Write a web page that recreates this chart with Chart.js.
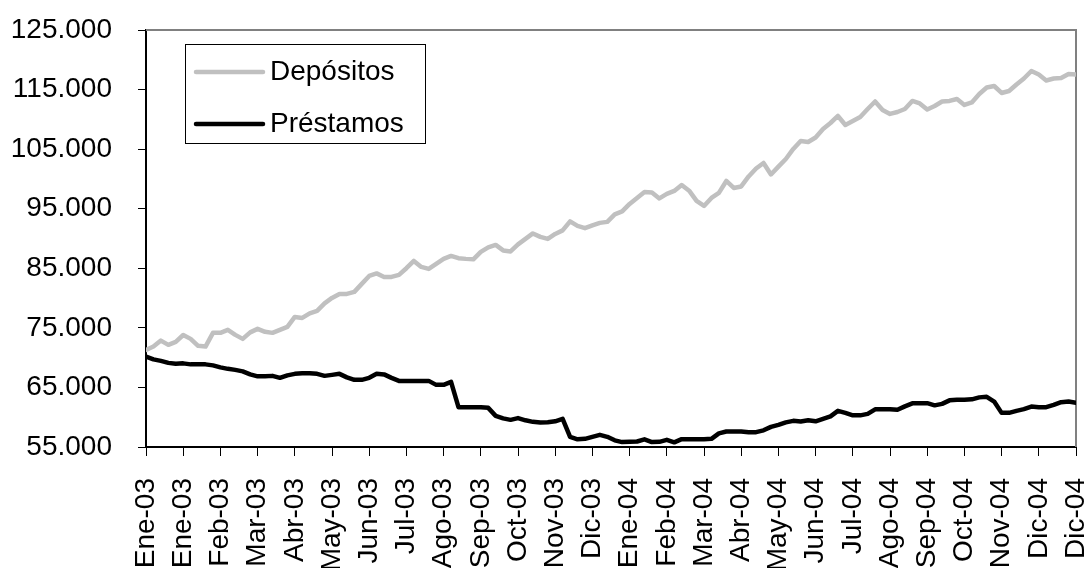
<!DOCTYPE html>
<html>
<head>
<meta charset="utf-8">
<script src="https://cdn.jsdelivr.net/npm/chart.js@4.4.1/dist/chart.umd.min.js"></script>
<style>
  html, body { margin: 0; padding: 0; background: #fff; }
  #wrap { width: 1088px; height: 568px; position: relative; }
</style>
</head>
<body>
<div id="wrap"><canvas id="main-chart"></canvas></div>
<script>
// Depósitos vs Préstamos, Ene-03 .. Dic-04

// ---- data ----
const xLabels = ['Ene-03', 'Ene-03', 'Feb-03', 'Mar-03', 'Abr-03', 'May-03', 'Jun-03', 'Jul-03', 'Ago-03',
  'Sep-03', 'Oct-03', 'Nov-03', 'Dic-03', 'Ene-04', 'Feb-04', 'Mar-04', 'Abr-04', 'May-04', 'Jun-04',
  'Jul-04', 'Ago-04', 'Sep-04', 'Oct-04', 'Nov-04', 'Dic-04', 'Dic-04'];
const pointsPerLabel = 5;

const depositos = [
  71300, 71860, 72860, 72150, 72650, 73800, 73150, 71980, 71860, 74160,
  74160, 74660, 73820, 73150, 74240, 74830, 74330, 74160, 74660, 75160,
  76840, 76670, 77430, 77850, 79110, 80030, 80700, 80700, 81040, 82380,
  83720, 84140, 83550, 83550, 83890, 85010, 86240, 85230, 84900, 85740,
  86580, 87080, 86690, 86580, 86500, 87750, 88510, 88920, 88000, 87830,
  89010, 89930, 90850, 90270, 89930, 90770, 91360, 92870, 92110, 91730,
  92200, 92620, 92790, 94040, 94540, 95800, 96810, 97820, 97730, 96730,
  97480, 97990, 98990, 98030, 96310, 95470, 96810, 97650, 99660, 98490,
  98740, 100420, 101760, 102680, 100750, 102060, 103350, 105030, 106370, 106200,
  106960, 108390, 109390, 110570, 109060, 109730, 110400, 111740, 113000, 111580,
  110910, 111240, 111740, 113090, 112670, 111660, 112250, 113000, 113090, 113420,
  112420, 112840, 114260, 115350, 115600, 114430, 114760, 115850, 116860, 118120,
  117530, 116530, 116860, 116940, 117620, 117530
];
const prestamos = [
  70180, 69710, 69460, 69120, 68960, 69040, 68870, 68870, 68870, 68700,
  68370, 68120, 67950, 67700, 67190, 66860, 66860, 66940, 66610, 67020,
  67280, 67360, 67360, 67280, 66940, 67110, 67280, 66690, 66270, 66270,
  66610, 67280, 67190, 66610, 66100, 66100, 66100, 66100, 66100, 65430,
  65430, 65940, 61690, 61690, 61690, 61690, 61570, 60230, 59810, 59560,
  59850, 59480, 59220, 59110, 59140, 59310, 59730, 56710, 56290, 56370,
  56710, 57040, 56710, 56120, 55820, 55870, 55920, 56290, 55820, 55870,
  56200, 55780, 56320, 56320, 56320, 56320, 56370, 57290, 57600, 57600,
  57600, 57490, 57490, 57800, 58380, 58720, 59140, 59390, 59280, 59480,
  59310, 59730, 60150, 61070, 60730, 60310, 60310, 60560, 61320, 61350,
  61350, 61240, 61820, 62330, 62360, 62360, 61990, 62240, 62830, 62920,
  62920, 63000, 63330, 63420, 62630, 60730, 60730, 61070, 61350, 61790,
  61690, 61690, 62070, 62530, 62630, 62410
];
const yMin = 55000, yMax = 125000, yStep = 10000;

// ---- helpers ----
const FONT = '"Liberation Sans", Arial, sans-serif';
const toXY = arr => arr.map((v, i) => ({ x: i, y: v }));
const fmtMiles = v => String(v).replace(/\B(?=(\d{3})+(?!\d))/g, '.');

// keep the plot box fixed: no extra room for overhanging tick labels
function fixBox(s, size) {
  if (s.isHorizontal()) s.height = size; else s.width = size;
  s.paddingLeft = s.paddingRight = s.paddingTop = s.paddingBottom = 0;
}

// gray frame on top/right of plot area (Excel style)
const frame = {
  id: 'frame',
  beforeDatasetsDraw(chart) {
    const { ctx, chartArea: a } = chart;
    ctx.save();
    ctx.strokeStyle = '#808080';
    ctx.lineWidth = 2;
    ctx.beginPath();
    ctx.moveTo(a.left, a.top);
    ctx.lineTo(a.right, a.top);
    ctx.lineTo(a.right, a.bottom);
    ctx.stroke();
    ctx.restore();
  }
};

// boxed legend inside the plot, top left
const boxLegend = {
  id: 'boxLegend',
  afterDatasetsDraw(chart) {
    const { ctx, chartArea: a } = chart;
    const bx = a.left + 39, by = a.top + 14, bw = 240, bh = 99;
    ctx.save();
    ctx.fillStyle = '#fff';
    ctx.fillRect(bx, by, bw, bh);
    ctx.strokeStyle = '#000';
    ctx.lineWidth = 1;
    ctx.strokeRect(bx + 0.5, by + 0.5, bw, bh);
    chart.data.datasets.forEach((ds, i) => {
      const y = by + 28 + i * 52;
      ctx.strokeStyle = ds.borderColor;
      ctx.lineWidth = ds.borderWidth;
      ctx.lineCap = 'round';
      ctx.beginPath();
      ctx.moveTo(bx + 11, y);
      ctx.lineTo(bx + 78, y);
      ctx.stroke();
      ctx.fillStyle = '#000';
      ctx.font = '28px ' + FONT;
      ctx.textBaseline = 'middle';
      ctx.fillText(ds.label, bx + 85, y);
    });
    ctx.restore();
  }
};

function buildChart() {
  const ctx = document.getElementById('main-chart').getContext('2d');
  return new Chart(ctx, {
    type: 'line',
    data: {
      datasets: [
        {
          label: 'Depósitos',
          data: toXY(depositos),
          borderColor: '#c0c0c0',
          borderWidth: 4.5,
          pointRadius: 0,
          tension: 0,
          borderJoinStyle: 'round',
          borderCapStyle: 'round'
        },
        {
          label: 'Préstamos',
          data: toXY(prestamos),
          borderColor: '#000000',
          borderWidth: 4.5,
          pointRadius: 0,
          tension: 0,
          borderJoinStyle: 'round',
          borderCapStyle: 'round'
        }
      ]
    },
    options: {
      responsive: true,
      maintainAspectRatio: false,
      animation: false,
      layout: { padding: { top: 30, right: 12, left: 0, bottom: 0 } },
      scales: {
        x: {
          type: 'linear',
          min: 0,
          max: (xLabels.length - 1) * pointsPerLabel,
          afterFit: s => fixBox(s, 121),
          border: { display: true, color: '#000', width: 2 },
          grid: { drawOnChartArea: false, drawTicks: true, tickLength: 9, color: '#000', lineWidth: 1 },
          ticks: {
            stepSize: pointsPerLabel,
            autoSkip: false,
            maxRotation: 90,
            minRotation: 90,
            padding: 22,
            color: '#000',
            font: { family: FONT, size: 28 },
            callback: v => xLabels[Math.round(v / pointsPerLabel)]
          }
        },
        y: {
          min: yMin,
          max: yMax,
          afterFit: s => fixBox(s, 146),
          border: { display: true, color: '#000', width: 2 },
          grid: { drawOnChartArea: false, drawTicks: true, tickLength: 8, color: '#000', lineWidth: 1 },
          ticks: {
            stepSize: yStep,
            padding: 26,
            color: '#000',
            font: { family: FONT, size: 28 },
            callback: v => fmtMiles(v)
          }
        }
      },
      plugins: {
        legend: { display: false },
        tooltip: { enabled: false }
      }
    },
    plugins: [frame, boxLegend]
  });
}

document.addEventListener('DOMContentLoaded', () => {
  buildChart();
});
</script>
</body>
</html>
